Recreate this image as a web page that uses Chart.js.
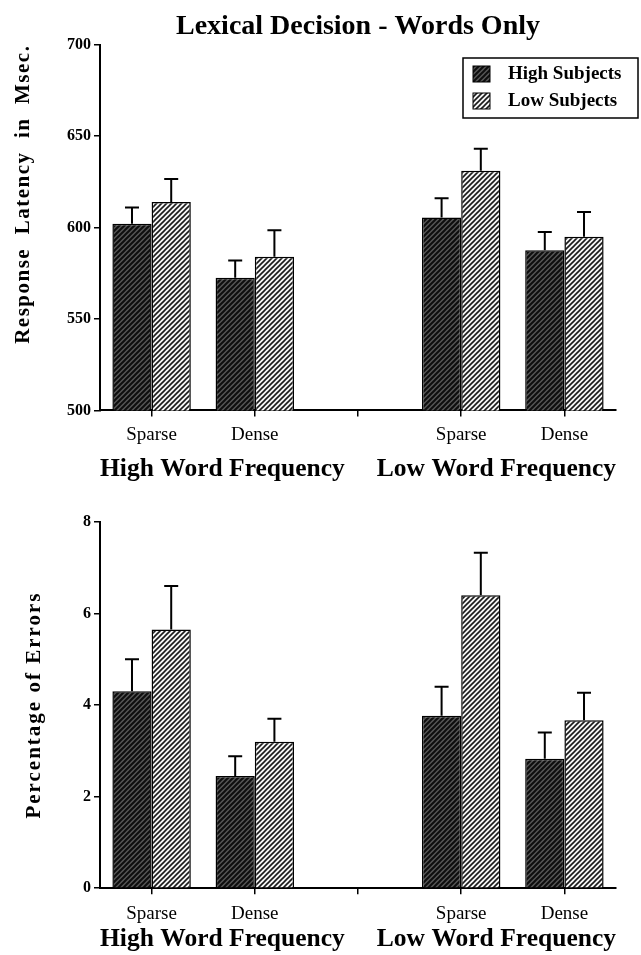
<!DOCTYPE html>
<html>
<head>
<meta charset="utf-8">
<title>Lexical Decision - Words Only</title>
<script src="https://cdn.jsdelivr.net/npm/chart.js@4.4.1/dist/chart.umd.min.js"></script>
<style>
  html, body { margin: 0; padding: 0; background: #fff; }
  body { width: 641px; height: 955px; position: relative; overflow: hidden; }
  .panel { position: absolute; left: 0; width: 641px; }
  #top { top: 0; height: 486px; }
  #bottom { top: 486px; height: 469px; }
</style>
</head>
<body>
<div class="panel" id="top"><canvas id="latencyChart"></canvas></div>
<div class="panel" id="bottom"><canvas id="errorChart"></canvas></div>
<script>
// data
const categories = ['Sparse', 'Dense', '', 'Sparse', 'Dense'];
const seriesNames = ['High Subjects', 'Low Subjects'];
const groupLabel = 'High Word Frequency     Low Word Frequency';

const latencyHigh = [602, 572.5, null, 605.5, 587.5];
const latencyLow = [614, 584, null, 631, 595];
const latencyHighErr = [9, 9.5, null, 10.5, 10];
const latencyLowErr = [12.5, 14.5, null, 12, 13.5];
const latencyTicks = [500, 550, 600, 650, 700];

const errorsHigh = [4.3, 2.45, null, 3.77, 2.83];
const errorsLow = [5.65, 3.2, null, 6.4, 3.67];
const errorsHighErr = [0.7, 0.43, null, 0.63, 0.57];
const errorsLowErr = [0.95, 0.5, null, 0.93, 0.6];
const errorTicks = [0, 2, 4, 6, 8];

const serif = "'Liberation Serif', 'Times New Roman', serif";
Chart.defaults.font.family = serif;
Chart.defaults.color = '#000';

// diagonal hatch fills
function hatch(bg, line, width) {
    const c = document.createElement('canvas');
    c.width = 5; c.height = 5;
    const g = c.getContext('2d');
    g.fillStyle = bg;
    g.fillRect(0, 0, 5, 5);
    g.strokeStyle = line;
    g.lineWidth = width;
    g.beginPath();
    g.moveTo(-1, 6); g.lineTo(6, -1);
    g.moveTo(-1, 1); g.lineTo(1, -1);
    g.moveTo(4, 6); g.lineTo(6, 4);
    g.stroke();
    return g.createPattern(c, 'repeat');
}
const darkHatch = hatch('#555', '#0d0d0d', 2);
const lightHatch = hatch('#f6f6f6', '#1a1a1a', 1.6);

// upper error whiskers
const errorBars = {
    id: 'errorBars',
    afterDatasetsDraw(chart, args, opts) {
        const ctx = chart.ctx;
        const y = chart.scales.y;
        ctx.save();
        ctx.strokeStyle = '#000';
        ctx.lineWidth = 2;
        chart.data.datasets.forEach((ds, i) => {
            chart.getDatasetMeta(i).data.forEach((bar, j) => {
                const v = ds.data[j], e = ds.errors[j];
                if (v == null || e == null) return;
                const top = y.getPixelForValue(v + e);
                ctx.beginPath();
                ctx.moveTo(bar.x, bar.y);
                ctx.lineTo(bar.x, top);
                ctx.moveTo(bar.x - opts.cap / 2, top);
                ctx.lineTo(bar.x + opts.cap / 2, top);
                ctx.stroke();
            });
        });
        ctx.restore();
    }
};

// boxed legend sitting over the top right corner
const boxLegend = {
    id: 'boxLegend',
    afterDraw(chart, args, o) {
        if (!o.show) return;
        const ctx = chart.ctx;
        ctx.save();
        ctx.strokeStyle = '#000';
        ctx.lineWidth = 1.5;
        ctx.strokeRect(o.x, o.y, o.w, o.h);
        ctx.font = 'bold 19px ' + serif;
        ctx.textBaseline = 'middle';
        chart.data.datasets.forEach((ds, i) => {
            const cy = o.y + o.rowTop + i * o.rowGap;
            ctx.fillStyle = ds.backgroundColor;
            ctx.fillRect(o.x + 10, cy - 8, 17, 16);
            ctx.lineWidth = 1;
            ctx.strokeRect(o.x + 10, cy - 8, 17, 16);
            ctx.fillStyle = '#000';
            ctx.fillText(ds.label, o.x + 45, cy);
        });
        ctx.restore();
    }
};

// wider letter spacing on the rotated y title
const spacedTitle = {
    id: 'spacedTitle',
    afterLayout(chart, args, o) {
        const s = chart.scales.y;
        if (s._spaced) return;
        const orig = s.drawTitle;
        s.drawTitle = function () {
            this.ctx.letterSpacing = o.spacing + 'px';
            orig.call(this);
            this.ctx.letterSpacing = '0px';
        };
        s._spaced = true;
    }
};

function makeChart(id, cfg) {
    return new Chart(document.getElementById(id), {
        type: 'bar',
        data: {
            labels: categories,
            datasets: [
                {
                    label: seriesNames[0],
                    data: cfg.high,
                    errors: cfg.highErr,
                    backgroundColor: darkHatch,
                    borderColor: '#000',
                    borderWidth: 1.5
                },
                {
                    label: seriesNames[1],
                    data: cfg.low,
                    errors: cfg.lowErr,
                    backgroundColor: lightHatch,
                    borderColor: '#000',
                    borderWidth: 1.5
                }
            ]
        },
        options: {
            responsive: true,
            maintainAspectRatio: false,
            animation: false,
            categoryPercentage: 0.76,
            barPercentage: 1,
            layout: { padding: { left: 0, right: 25, top: cfg.padTop, bottom: 0 } },
            scales: {
                x: {
                    grid: { offset: false, drawOnChartArea: false, tickLength: 6, color: '#000', lineWidth: 1.5 },
                    border: { color: '#000', width: 2 },
                    ticks: { color: '#000', font: { size: 19, lineHeight: 0.6 }, padding: cfg.tickPad, maxRotation: 0, autoSkip: false },
                    title: {
                        display: true,
                        text: groupLabel,
                        color: '#000',
                        font: { size: 26, weight: 'bold', lineHeight: cfg.groupLh },
                        padding: { top: cfg.groupPad, bottom: cfg.groupPadBottom }
                    }
                },
                y: {
                    min: cfg.ticks[0],
                    max: cfg.ticks[cfg.ticks.length - 1],
                    afterBuildTicks: s => { s.ticks = cfg.ticks.map(v => ({ value: v })); },
                    afterFit: s => { s.width = 100; },
                    border: { color: '#000', width: 2 },
                    grid: { drawOnChartArea: false, tickLength: 6, color: '#000', lineWidth: 1.5 },
                    ticks: { color: '#000', font: { size: 16, weight: 'bold' }, padding: 3 },
                    title: {
                        display: true,
                        text: cfg.yTitle,
                        align: cfg.yAlign,
                        color: '#000',
                        font: { size: 21, weight: 'bold' },
                        padding: { top: cfg.yTitlePad, bottom: 0 }
                    }
                }
            },
            plugins: {
                legend: { display: false },
                tooltip: { enabled: false },
                title: cfg.title,
                errorBars: { cap: 14 },
                boxLegend: cfg.legend,
                spacedTitle: { spacing: cfg.spacing }
            }
        },
        plugins: [errorBars, boxLegend, spacedTitle]
    });
}

makeChart('latencyChart', {
    high: latencyHigh, low: latencyLow,
    highErr: latencyHighErr, lowErr: latencyLowErr,
    ticks: latencyTicks,
    yTitle: 'Response  Latency  in  Msec.',
    yAlign: 'end',
    yTitlePad: 11,
    spacing: 1.5,
    padTop: 0,
    tickPad: 13,
    groupLh: 0.7,
    groupPad: 6,
    groupPadBottom: 8,
    title: {
        display: true,
        text: 'Lexical Decision - Words Only',
        fullSize: false,
        color: '#000',
        font: { size: 28, weight: 'bold' },
        padding: { top: 10, bottom: 1 }
    },
    legend: { show: true, x: 463, y: 58, w: 175, h: 60, rowTop: 16, rowGap: 27 }
});

makeChart('errorChart', {
    high: errorsHigh, low: errorsLow,
    highErr: errorsHighErr, lowErr: errorsLowErr,
    ticks: errorTicks,
    yTitle: 'Percentage of Errors',
    yAlign: 'center',
    yTitlePad: 22,
    spacing: 2,
    padTop: 36,
    tickPad: 14,
    groupLh: 0.4,
    groupPad: 0,
    groupPadBottom: 11,
    title: { display: false },
    legend: { show: false }
});
</script>
</body>
</html>
